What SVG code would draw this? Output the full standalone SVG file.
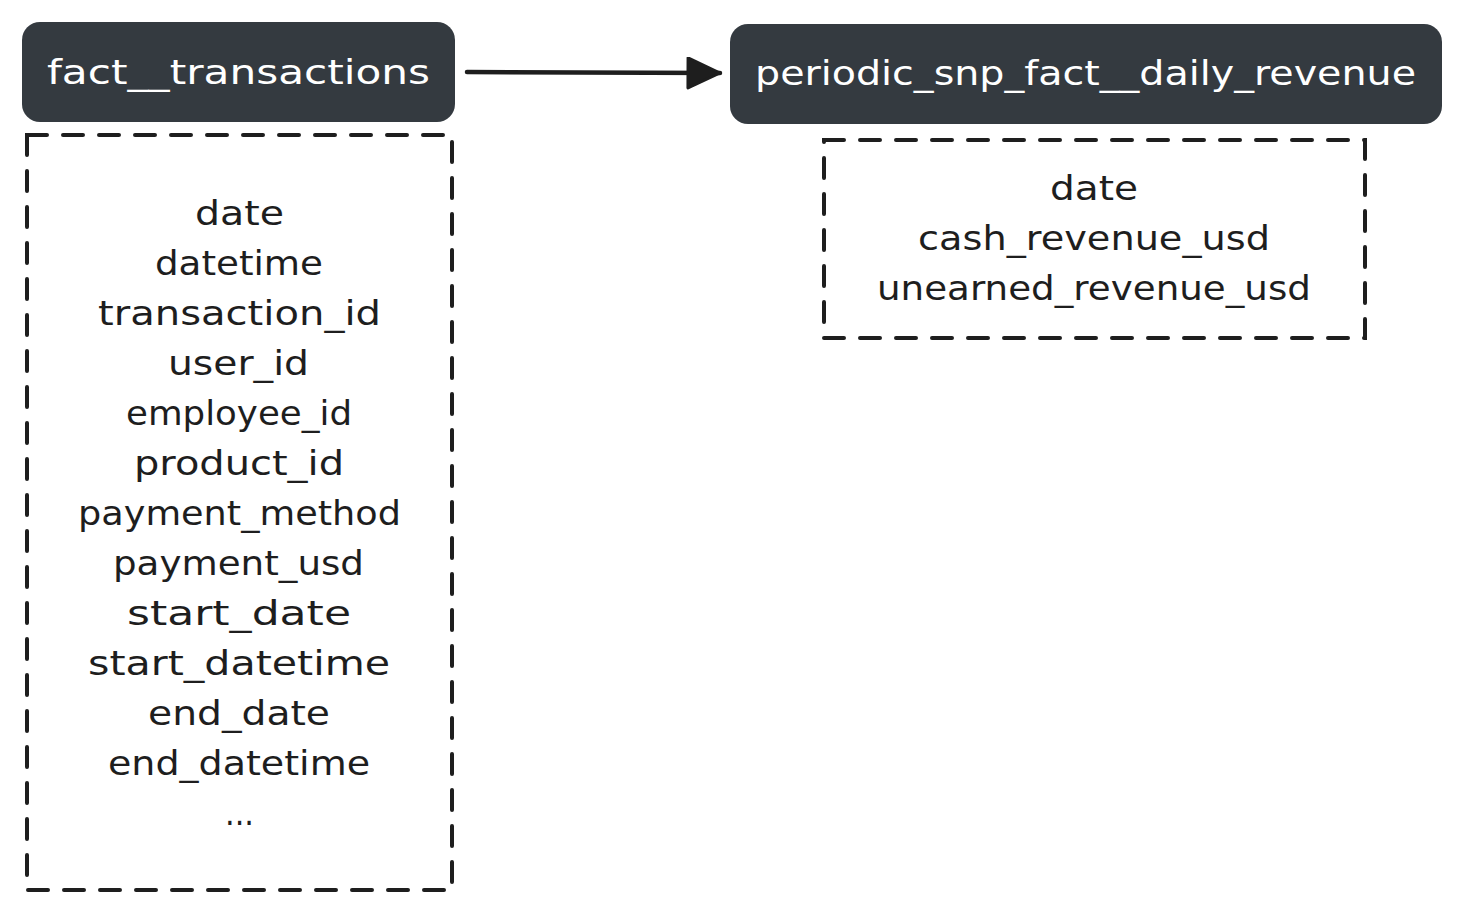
<svg xmlns="http://www.w3.org/2000/svg" width="1463" height="912" viewBox="0 0 1463 912">
  <style>
    .title { fill: #343a40; }
    .title-text { font-family: "DejaVu Sans", "Liberation Sans", sans-serif; font-size: 34px; fill: #ffffff; text-anchor: middle; }
    .dash { fill: none; stroke: #1e1e1e; stroke-width: 4; stroke-dasharray: 20 16; stroke-linecap: round; }
    .col { font-family: "DejaVu Sans", "Liberation Sans", sans-serif; font-size: 34px; fill: #1e1e1e; text-anchor: middle; }
    .conn { stroke: #1e1e1e; stroke-width: 4.5; stroke-linecap: round; fill: none; }
  </style>
  <defs>
    <marker id="arrow" markerUnits="userSpaceOnUse" markerWidth="40" markerHeight="40" refX="34" refY="16" orient="auto">
      <path d="M2,1 L34,16 L2,31 Z" fill="#1e1e1e" stroke="#1e1e1e" stroke-width="3" stroke-linejoin="round"/>
    </marker>
  </defs>
  <rect width="1463" height="912" fill="#ffffff"/>

  <g id="connectors">
    <path class="conn" d="M467,72 L720,73" marker-end="url(#arrow)"/>
  </g>

  <g id="fact_transactions">
    <rect class="title" x="22" y="22" width="433" height="100" rx="18"/>
    <text class="title-text" x="238.5" y="84" textLength="383" lengthAdjust="spacingAndGlyphs">fact__transactions</text>
  </g>

  <g id="fact_transactions_columns">
    <rect class="dash" x="27" y="135" width="425" height="755"/>
    <text class="col" x="239.5" y="225" textLength="89" lengthAdjust="spacingAndGlyphs">date</text>
    <text class="col" x="239" y="275" textLength="168" lengthAdjust="spacingAndGlyphs">datetime</text>
    <text class="col" x="239.5" y="325" textLength="283" lengthAdjust="spacingAndGlyphs">transaction_id</text>
    <text class="col" x="238.5" y="375" textLength="141" lengthAdjust="spacingAndGlyphs">user_id</text>
    <text class="col" x="239" y="425" textLength="226" lengthAdjust="spacingAndGlyphs">employee_id</text>
    <text class="col" x="239" y="475" textLength="210" lengthAdjust="spacingAndGlyphs">product_id</text>
    <text class="col" x="239.5" y="525" textLength="323" lengthAdjust="spacingAndGlyphs">payment_method</text>
    <text class="col" x="238.5" y="575" textLength="251" lengthAdjust="spacingAndGlyphs">payment_usd</text>
    <text class="col" x="239" y="625" textLength="224" lengthAdjust="spacingAndGlyphs">start_date</text>
    <text class="col" x="239" y="675" textLength="302" lengthAdjust="spacingAndGlyphs">start_datetime</text>
    <text class="col" x="239" y="725" textLength="182" lengthAdjust="spacingAndGlyphs">end_date</text>
    <text class="col" x="239" y="775" textLength="262" lengthAdjust="spacingAndGlyphs">end_datetime</text>
    <text class="col" x="239.5" y="825" textLength="29" lengthAdjust="spacingAndGlyphs">...</text>
  </g>

  <g id="periodic_snp_fact_daily_revenue">
    <rect class="title" x="730" y="24" width="712" height="100" rx="18"/>
    <text class="title-text" x="1085.5" y="85" textLength="661" lengthAdjust="spacingAndGlyphs">periodic_snp_fact__daily_revenue</text>
  </g>

  <g id="periodic_snp_fact_daily_revenue_columns">
    <rect class="dash" x="824" y="140" width="541" height="198"/>
    <text class="col" x="1094" y="200" textLength="88" lengthAdjust="spacingAndGlyphs">date</text>
    <text class="col" x="1094" y="250" textLength="352" lengthAdjust="spacingAndGlyphs">cash_revenue_usd</text>
    <text class="col" x="1094" y="300" textLength="434" lengthAdjust="spacingAndGlyphs">unearned_revenue_usd</text>
  </g>
</svg>
